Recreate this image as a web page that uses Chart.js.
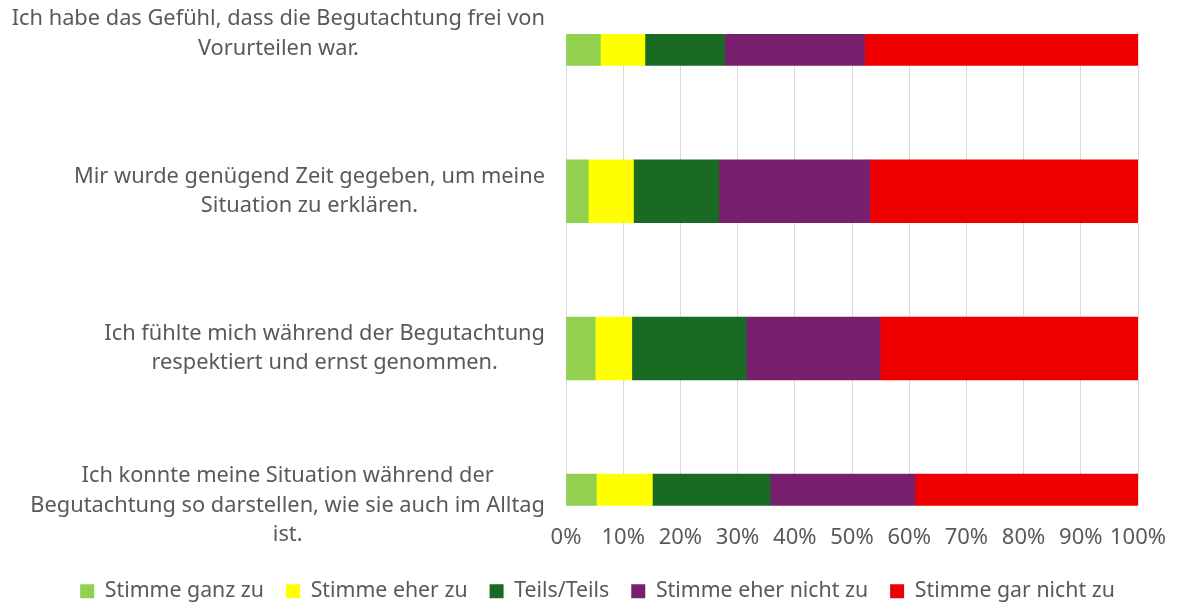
<!DOCTYPE html>
<html>
<head>
<meta charset="utf-8">
<script src="https://cdn.jsdelivr.net/npm/chart.js@4.4.0/dist/chart.umd.min.js"></script>
<style>
  html, body { margin: 0; padding: 0; background: #fff; }
  #wrap { width: 1178px; height: 602px; }
</style>
</head>
<body>
<div id="wrap"><canvas id="chart" width="1178" height="602"></canvas></div>
<script>
// Statements (y categories), each already split into lines like the original
const statements = [
    ['Ich habe das Gefühl, dass die Begutachtung frei von', 'Vorurteilen war.'],
    ['Mir wurde genügend Zeit gegeben, um meine', 'Situation zu erklären.'],
    ['Ich fühlte mich während der Begutachtung', 'respektiert und ernst genommen.'],
    ['Ich konnte meine Situation während der', 'Begutachtung so darstellen, wie sie auch im Alltag', 'ist.']
];

const answers = ['Stimme ganz zu', 'Stimme eher zu', 'Teils/Teils', 'Stimme eher nicht zu', 'Stimme gar nicht zu'];

// shares in percent, one value per statement
const ganzZu    = [6.0, 3.9, 5.1, 5.3];
const eherZu    = [7.8, 7.9, 6.4, 9.8];
const teils     = [13.9, 14.9, 20.0, 20.6];
const eherNicht = [24.5, 26.4, 23.4, 25.3];
const garNicht  = [47.8, 46.9, 45.1, 39.0];

const percentTicks = [0, 10, 20, 30, 40, 50, 60, 70, 80, 90, 100];

const colors = ['#92D050', '#FFFF00', '#196B24', '#78206E', '#EE0000'];
const textColor = '#595959';
const fontFamily = '"Noto Sans", "Open Sans", sans-serif';

// centred multi-line labels, block right-aligned to the plot
const statementLabels = {
    id: 'statementLabels',
    afterDraw(chart) {
        const ctx = chart.ctx;
        const yScale = chart.scales.y;
        const right = chart.chartArea.left - 21;
        ctx.save();
        ctx.font = '21.8px ' + fontFamily;
        ctx.fillStyle = textColor;
        ctx.textAlign = 'center';
        ctx.textBaseline = 'middle';
        statements.forEach((lines, i) => {
            const widest = Math.max(...lines.map(l => ctx.measureText(l).width));
            const cx = right - widest / 2;
            const cy = yScale.getPixelForValue(i);
            lines.forEach((line, k) => {
                ctx.fillText(line, cx, cy + (k - (lines.length - 1) / 2) * 29.5);
            });
        });
        ctx.restore();
    }
};

const series = [ganzZu, eherZu, teils, eherNicht, garNicht];

new Chart(document.getElementById('chart'), {
    type: 'bar',
    data: {
        labels: statements.map(s => s.join(' ')),
        datasets: series.map((values, i) => ({
            label: answers[i],
            data: values,
            backgroundColor: colors[i],
            borderWidth: 0,
            barThickness: 63,
            clip: 0
        }))
    },
    options: {
        indexAxis: 'y',
        responsive: false,
        animation: false,
        layout: {
            padding: { top: 34, right: 33, bottom: -10, left: 50 }
        },
        scales: {
            x: {
                stacked: true,
                min: 0,
                max: 100,
                afterBuildTicks: scale => {
                    scale.ticks = percentTicks.map(v => ({ value: v }));
                },
                ticks: {
                    callback: v => v + '%',
                    color: textColor,
                    font: { family: fontFamily, size: 22 },
                    padding: 19,
                    autoSkip: false,
                    maxRotation: 0
                },
                grid: { color: '#d9d9d9', lineWidth: 1, drawTicks: false },
                border: { display: false },
                afterFit: scale => {
                    scale.height = 53;
                    scale.paddingRight = 40;
                }
            },
            y: {
                stacked: true,
                offset: false,
                ticks: { display: false },
                grid: { display: false },
                border: { display: false },
                afterFit: scale => { scale.width = 516; }
            }
        },
        plugins: {
            legend: {
                position: 'bottom',
                labels: {
                    boxWidth: 14,
                    boxHeight: 14,
                    padding: 22,
                    color: textColor,
                    font: { family: fontFamily, size: 21.3 }
                }
            },
            tooltip: { enabled: false }
        }
    },
    plugins: [statementLabels]
});
</script>
</body>
</html>
